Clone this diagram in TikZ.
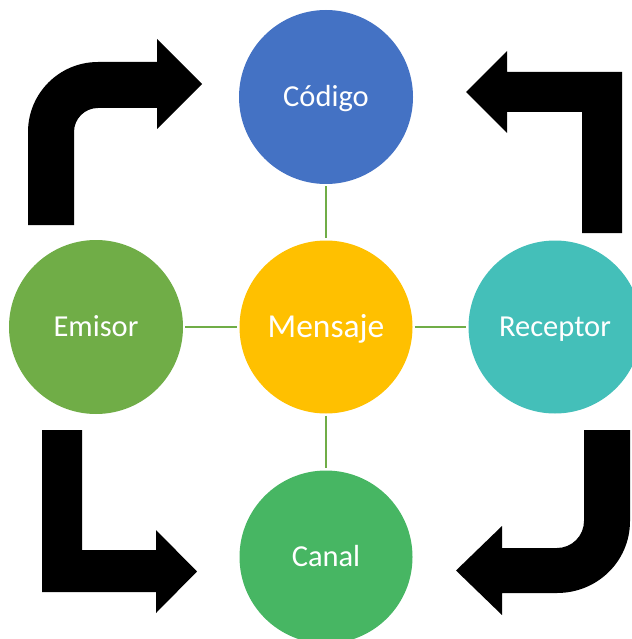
\documentclass[tikz,border=0pt]{standalone}
\usepackage{fontspec}
\setmainfont{Carlito}
\definecolor{cblue}{HTML}{4472C4}
\definecolor{cyellow}{HTML}{FFC000}
\definecolor{cgreen}{HTML}{70AD47}
\definecolor{cteal}{HTML}{44BFB9}
\definecolor{ccanal}{HTML}{47B663}
\definecolor{clink}{HTML}{70AD47}
\tikzset{
  bubble/.style={circle, minimum size=#1, inner sep=0pt, text=white,
    font=\fontsize{30.5}{36}\selectfont, text height=19.6pt, text depth=0pt},
  link/.style={draw=clink, line width=2.4pt, shorten <=2pt, shorten >=2pt},
  bigarrow/.style={fill=black, draw=none}
}
\begin{document}
\begin{tikzpicture}[x=1pt,y=-1pt]
\useasboundingbox (0,0) rectangle (631,639);
% circles
\node[bubble=174pt, fill=cblue] (cod) at (326,97) {Código};
\node[bubble=173pt, fill=cyellow, font=\fontsize{33.5}{40}\selectfont, text height=21.6pt] (men) at (326,327) {Mensaje};
\node[bubble=174pt, fill=cgreen] (emi) at (96,327) {Emisor};
\node[bubble=173pt, fill=cteal] (rec) at (555,327) {Receptor};
\node[bubble=173pt, fill=ccanal] (can) at (326,557) {Canal};
% links
\draw[link] (cod) -- (men);
\draw[link] (emi) -- (men);
\draw[link] (men) -- (rec);
\draw[link] (men) -- (can);
% arrow top-left (rounded, pointing right)
\fill[bigarrow] (28,225) -- (28,132)
  .. controls (28,93.3) and (59.3,62) .. (98,62)
  -- (157,62) -- (157,39) -- (202,84) -- (157,129) -- (157,108) -- (98,108)
  .. controls (84.7,108) and (74,118.7) .. (74,132)
  -- (74,225) -- cycle;
% arrow top-right (sharp, pointing left)
\fill[bigarrow] (622,233) -- (622,72) -- (507,72) -- (507,51) -- (466,92)
  -- (507,133) -- (507,112) -- (582,112) -- (582,233) -- cycle;
% arrow bottom-left (sharp, pointing right)
\fill[bigarrow] (42,430) -- (42,592) -- (156,592) -- (156,613) -- (197,571.5)
  -- (156,530) -- (156,550) -- (82,550) -- (82,430) -- cycle;
% arrow bottom-right (rounded, pointing left)
\fill[bigarrow] (630,430) -- (630,521)
  .. controls (630,561.3) and (597.3,593) .. (557,593)
  -- (502,593) -- (502,615) -- (456,570.5) -- (502,526) -- (502,548) -- (557,548)
  .. controls (571.9,548) and (584,535.9) .. (584,521)
  -- (584,430) -- cycle;
\end{tikzpicture}
\end{document}
